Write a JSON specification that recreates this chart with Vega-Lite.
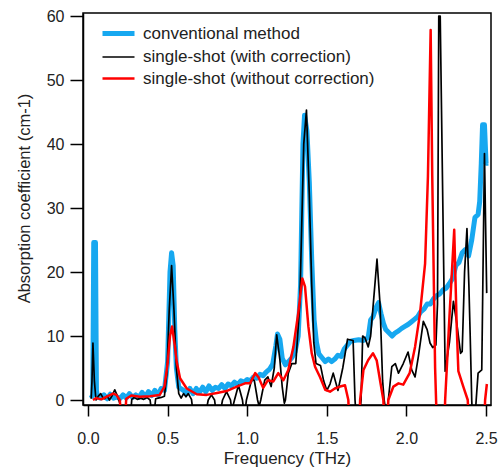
{
  "$schema": "https://vega.github.io/schema/vega-lite/v6.json",
  "width": 408,
  "height": 392,
  "autosize": {"type": "none"},
  "padding": {"left": 83, "top": 13, "right": 8, "bottom": 67},
  "background": "white",
  "config": {
    "font": "Liberation Sans",
    "view": {"stroke": "black", "strokeWidth": 1.5},
    "axis": {"grid": false, "domainColor": "black", "domainWidth": 1.5, "tickColor": "black", "tickWidth": 1.5, "labelColor": "#222", "titleColor": "#222", "labelFontSize": 16, "titleFontSize": 17, "titleFontWeight": "normal"}
  },
  "data": {"values": [
    {"s":"conventional method","f":0.02,"a":0.3},{"s":"conventional method","f":0.03,"a":0.8},{"s":"conventional method","f":0.036,"a":24.6},{"s":"conventional method","f":0.047,"a":24.6},{"s":"conventional method","f":0.053,"a":1.5},{"s":"conventional method","f":0.06,"a":0.5},{"s":"conventional method","f":0.08,"a":0.3},{"s":"conventional method","f":0.1,"a":0.8},{"s":"conventional method","f":0.12,"a":0.2},{"s":"conventional method","f":0.14,"a":0.9},{"s":"conventional method","f":0.16,"a":0.3},{"s":"conventional method","f":0.18,"a":0.5},{"s":"conventional method","f":0.2,"a":0.2},{"s":"conventional method","f":0.22,"a":0.8},{"s":"conventional method","f":0.24,"a":0.3},{"s":"conventional method","f":0.26,"a":1.0},{"s":"conventional method","f":0.28,"a":0.4},{"s":"conventional method","f":0.3,"a":0.8},{"s":"conventional method","f":0.32,"a":0.4},{"s":"conventional method","f":0.34,"a":1.2},{"s":"conventional method","f":0.36,"a":0.5},{"s":"conventional method","f":0.38,"a":1.3},{"s":"conventional method","f":0.4,"a":0.7},{"s":"conventional method","f":0.42,"a":1.5},{"s":"conventional method","f":0.44,"a":0.8},{"s":"conventional method","f":0.46,"a":1.8},{"s":"conventional method","f":0.48,"a":1.5},{"s":"conventional method","f":0.5,"a":6},{"s":"conventional method","f":0.515,"a":20},{"s":"conventional method","f":0.525,"a":23},{"s":"conventional method","f":0.535,"a":21},{"s":"conventional method","f":0.545,"a":11},{"s":"conventional method","f":0.555,"a":5},{"s":"conventional method","f":0.57,"a":2},{"s":"conventional method","f":0.6,"a":1.5},{"s":"conventional method","f":0.62,"a":1.0},{"s":"conventional method","f":0.64,"a":1.8},{"s":"conventional method","f":0.66,"a":1.0},{"s":"conventional method","f":0.68,"a":1.8},{"s":"conventional method","f":0.7,"a":1.2},{"s":"conventional method","f":0.72,"a":2.0},{"s":"conventional method","f":0.74,"a":1.3},{"s":"conventional method","f":0.76,"a":2.2},{"s":"conventional method","f":0.78,"a":1.5},{"s":"conventional method","f":0.8,"a":2.0},{"s":"conventional method","f":0.82,"a":1.8},{"s":"conventional method","f":0.84,"a":2.4},{"s":"conventional method","f":0.86,"a":1.8},{"s":"conventional method","f":0.88,"a":2.5},{"s":"conventional method","f":0.9,"a":2.2},{"s":"conventional method","f":0.92,"a":2.8},{"s":"conventional method","f":0.94,"a":2.4},{"s":"conventional method","f":0.96,"a":3.0},{"s":"conventional method","f":0.98,"a":2.8},{"s":"conventional method","f":1.0,"a":3.2},{"s":"conventional method","f":1.02,"a":3.0},{"s":"conventional method","f":1.04,"a":3.6},{"s":"conventional method","f":1.06,"a":3.4},{"s":"conventional method","f":1.08,"a":4.0},{"s":"conventional method","f":1.1,"a":3.8},{"s":"conventional method","f":1.12,"a":4.4},{"s":"conventional method","f":1.14,"a":4.8},{"s":"conventional method","f":1.16,"a":5.6},{"s":"conventional method","f":1.18,"a":8.5},{"s":"conventional method","f":1.19,"a":10.3},{"s":"conventional method","f":1.205,"a":9.5},{"s":"conventional method","f":1.22,"a":6.5},{"s":"conventional method","f":1.24,"a":5.5},{"s":"conventional method","f":1.26,"a":6.0},{"s":"conventional method","f":1.28,"a":6.6},{"s":"conventional method","f":1.3,"a":7.5},{"s":"conventional method","f":1.32,"a":10},{"s":"conventional method","f":1.335,"a":18},{"s":"conventional method","f":1.35,"a":40},{"s":"conventional method","f":1.36,"a":44.5},{"s":"conventional method","f":1.375,"a":42},{"s":"conventional method","f":1.39,"a":34},{"s":"conventional method","f":1.405,"a":22},{"s":"conventional method","f":1.42,"a":12.5},{"s":"conventional method","f":1.435,"a":9},{"s":"conventional method","f":1.45,"a":7.2},{"s":"conventional method","f":1.47,"a":6.6},{"s":"conventional method","f":1.49,"a":6.0},{"s":"conventional method","f":1.51,"a":6.4},{"s":"conventional method","f":1.53,"a":6.0},{"s":"conventional method","f":1.55,"a":6.4},{"s":"conventional method","f":1.57,"a":7.0},{"s":"conventional method","f":1.59,"a":6.8},{"s":"conventional method","f":1.61,"a":8.0},{"s":"conventional method","f":1.63,"a":8.6},{"s":"conventional method","f":1.65,"a":9.2},{"s":"conventional method","f":1.67,"a":9.3},{"s":"conventional method","f":1.7,"a":9.4},{"s":"conventional method","f":1.73,"a":9.3},{"s":"conventional method","f":1.76,"a":9.8},{"s":"conventional method","f":1.775,"a":12.5},{"s":"conventional method","f":1.79,"a":13},{"s":"conventional method","f":1.81,"a":14.5},{"s":"conventional method","f":1.825,"a":15.2},{"s":"conventional method","f":1.84,"a":13.5},{"s":"conventional method","f":1.855,"a":12},{"s":"conventional method","f":1.87,"a":11},{"s":"conventional method","f":1.89,"a":10.5},{"s":"conventional method","f":1.91,"a":10.0},{"s":"conventional method","f":1.93,"a":10.5},{"s":"conventional method","f":1.95,"a":10.8},{"s":"conventional method","f":1.97,"a":11.2},{"s":"conventional method","f":1.99,"a":11.5},{"s":"conventional method","f":2.01,"a":11.8},{"s":"conventional method","f":2.03,"a":12.2},{"s":"conventional method","f":2.05,"a":12.6},{"s":"conventional method","f":2.07,"a":13},{"s":"conventional method","f":2.09,"a":13.8},{"s":"conventional method","f":2.11,"a":14.2},{"s":"conventional method","f":2.13,"a":15},{"s":"conventional method","f":2.15,"a":15},{"s":"conventional method","f":2.17,"a":15.8},{"s":"conventional method","f":2.19,"a":16.3},{"s":"conventional method","f":2.21,"a":16.6},{"s":"conventional method","f":2.23,"a":17.2},{"s":"conventional method","f":2.25,"a":17.5},{"s":"conventional method","f":2.27,"a":18.2},{"s":"conventional method","f":2.29,"a":19},{"s":"conventional method","f":2.31,"a":21},{"s":"conventional method","f":2.33,"a":21.5},{"s":"conventional method","f":2.35,"a":23},{"s":"conventional method","f":2.37,"a":23.5},{"s":"conventional method","f":2.39,"a":22.5},{"s":"conventional method","f":2.41,"a":25},{"s":"conventional method","f":2.43,"a":28.5},{"s":"conventional method","f":2.45,"a":29},{"s":"conventional method","f":2.46,"a":31},{"s":"conventional method","f":2.47,"a":37},{"s":"conventional method","f":2.478,"a":43},{"s":"conventional method","f":2.49,"a":43},{"s":"conventional method","f":2.5,"a":37},{"s":"conventional method","f":2.515,"a":37},

    {"s":"single-shot (with correction)","f":0.02,"a":0.2},{"s":"single-shot (with correction)","f":0.025,"a":3},{"s":"single-shot (with correction)","f":0.031,"a":8.9},{"s":"single-shot (with correction)","f":0.04,"a":3},{"s":"single-shot (with correction)","f":0.05,"a":0},{"s":"single-shot (with correction)","f":0.065,"a":0.6},{"s":"single-shot (with correction)","f":0.08,"a":1.0},{"s":"single-shot (with correction)","f":0.095,"a":0.3},{"s":"single-shot (with correction)","f":0.105,"a":0.2},{"s":"single-shot (with correction)","f":0.12,"a":0.6},{"s":"single-shot (with correction)","f":0.135,"a":0},{"s":"single-shot (with correction)","f":0.15,"a":0.6},{"s":"single-shot (with correction)","f":0.168,"a":1.6},{"s":"single-shot (with correction)","f":0.185,"a":0.6},{"s":"single-shot (with correction)","f":0.2,"a":-0.5},{"s":"single-shot (with correction)","f":0.21,"a":-3},{"s":"single-shot (with correction)","f":0.265,"a":-3},{"s":"single-shot (with correction)","f":0.275,"a":0.1},{"s":"single-shot (with correction)","f":0.29,"a":0.4},{"s":"single-shot (with correction)","f":0.31,"a":0.1},{"s":"single-shot (with correction)","f":0.33,"a":0.3},{"s":"single-shot (with correction)","f":0.35,"a":0.1},{"s":"single-shot (with correction)","f":0.37,"a":0.4},{"s":"single-shot (with correction)","f":0.39,"a":0},{"s":"single-shot (with correction)","f":0.4,"a":-2},{"s":"single-shot (with correction)","f":0.415,"a":-2},{"s":"single-shot (with correction)","f":0.425,"a":0.2},{"s":"single-shot (with correction)","f":0.44,"a":0.3},{"s":"single-shot (with correction)","f":0.46,"a":0.4},{"s":"single-shot (with correction)","f":0.48,"a":0.6},{"s":"single-shot (with correction)","f":0.495,"a":4},{"s":"single-shot (with correction)","f":0.51,"a":14},{"s":"single-shot (with correction)","f":0.525,"a":21},{"s":"single-shot (with correction)","f":0.54,"a":14},{"s":"single-shot (with correction)","f":0.555,"a":5},{"s":"single-shot (with correction)","f":0.57,"a":1},{"s":"single-shot (with correction)","f":0.585,"a":0.3},{"s":"single-shot (with correction)","f":0.6,"a":1.0},{"s":"single-shot (with correction)","f":0.615,"a":0.5},{"s":"single-shot (with correction)","f":0.63,"a":1.0},{"s":"single-shot (with correction)","f":0.65,"a":0.1},{"s":"single-shot (with correction)","f":0.66,"a":-2},{"s":"single-shot (with correction)","f":0.74,"a":-2},{"s":"single-shot (with correction)","f":0.755,"a":0},{"s":"single-shot (with correction)","f":0.775,"a":0.8},{"s":"single-shot (with correction)","f":0.795,"a":0},{"s":"single-shot (with correction)","f":0.805,"a":-2},{"s":"single-shot (with correction)","f":0.83,"a":-2},{"s":"single-shot (with correction)","f":0.845,"a":0},{"s":"single-shot (with correction)","f":0.87,"a":1.3},{"s":"single-shot (with correction)","f":0.895,"a":0},{"s":"single-shot (with correction)","f":0.9,"a":-1},{"s":"single-shot (with correction)","f":0.91,"a":-1},{"s":"single-shot (with correction)","f":0.92,"a":0},{"s":"single-shot (with correction)","f":0.945,"a":2.3},{"s":"single-shot (with correction)","f":0.97,"a":0},{"s":"single-shot (with correction)","f":0.975,"a":-1},{"s":"single-shot (with correction)","f":0.99,"a":-1},{"s":"single-shot (with correction)","f":0.995,"a":0},{"s":"single-shot (with correction)","f":1.03,"a":3.4},{"s":"single-shot (with correction)","f":1.045,"a":3.0},{"s":"single-shot (with correction)","f":1.065,"a":0},{"s":"single-shot (with correction)","f":1.075,"a":-1},{"s":"single-shot (with correction)","f":1.085,"a":0},{"s":"single-shot (with correction)","f":1.11,"a":3.1},{"s":"single-shot (with correction)","f":1.13,"a":3.6},{"s":"single-shot (with correction)","f":1.15,"a":2.1},{"s":"single-shot (with correction)","f":1.17,"a":5},{"s":"single-shot (with correction)","f":1.185,"a":10.2},{"s":"single-shot (with correction)","f":1.205,"a":6.3},{"s":"single-shot (with correction)","f":1.22,"a":2},{"s":"single-shot (with correction)","f":1.233,"a":-0.5},{"s":"single-shot (with correction)","f":1.24,"a":0},{"s":"single-shot (with correction)","f":1.258,"a":4.2},{"s":"single-shot (with correction)","f":1.28,"a":5.7},{"s":"single-shot (with correction)","f":1.305,"a":5.7},{"s":"single-shot (with correction)","f":1.33,"a":15},{"s":"single-shot (with correction)","f":1.355,"a":40},{"s":"single-shot (with correction)","f":1.372,"a":45.3},{"s":"single-shot (with correction)","f":1.39,"a":32},{"s":"single-shot (with correction)","f":1.405,"a":18},{"s":"single-shot (with correction)","f":1.418,"a":9},{"s":"single-shot (with correction)","f":1.432,"a":5.7},{"s":"single-shot (with correction)","f":1.46,"a":5.4},{"s":"single-shot (with correction)","f":1.48,"a":3},{"s":"single-shot (with correction)","f":1.5,"a":1.5},{"s":"single-shot (with correction)","f":1.52,"a":2.5},{"s":"single-shot (with correction)","f":1.54,"a":4.2},{"s":"single-shot (with correction)","f":1.57,"a":1.5},{"s":"single-shot (with correction)","f":1.6,"a":5},{"s":"single-shot (with correction)","f":1.63,"a":9.5},{"s":"single-shot (with correction)","f":1.665,"a":9.3},{"s":"single-shot (with correction)","f":1.677,"a":0},{"s":"single-shot (with correction)","f":1.685,"a":-3},{"s":"single-shot (with correction)","f":1.705,"a":-3},{"s":"single-shot (with correction)","f":1.715,"a":0},{"s":"single-shot (with correction)","f":1.725,"a":10},{"s":"single-shot (with correction)","f":1.74,"a":9.7},{"s":"single-shot (with correction)","f":1.76,"a":8.3},{"s":"single-shot (with correction)","f":1.775,"a":10},{"s":"single-shot (with correction)","f":1.795,"a":16},{"s":"single-shot (with correction)","f":1.815,"a":22},{"s":"single-shot (with correction)","f":1.834,"a":15},{"s":"single-shot (with correction)","f":1.85,"a":3.1},{"s":"single-shot (with correction)","f":1.86,"a":0},{"s":"single-shot (with correction)","f":1.866,"a":-1},{"s":"single-shot (with correction)","f":1.88,"a":-1},{"s":"single-shot (with correction)","f":1.886,"a":0},{"s":"single-shot (with correction)","f":1.908,"a":5.2},{"s":"single-shot (with correction)","f":1.93,"a":5.7},{"s":"single-shot (with correction)","f":1.95,"a":4.2},{"s":"single-shot (with correction)","f":1.98,"a":5.7},{"s":"single-shot (with correction)","f":2.01,"a":7.5},{"s":"single-shot (with correction)","f":2.033,"a":4.7},{"s":"single-shot (with correction)","f":2.054,"a":3.6},{"s":"single-shot (with correction)","f":2.075,"a":6.8},{"s":"single-shot (with correction)","f":2.106,"a":12.3},{"s":"single-shot (with correction)","f":2.13,"a":11},{"s":"single-shot (with correction)","f":2.148,"a":8.9},{"s":"single-shot (with correction)","f":2.165,"a":8.2},{"s":"single-shot (with correction)","f":2.185,"a":8.6},{"s":"single-shot (with correction)","f":2.195,"a":15},{"s":"single-shot (with correction)","f":2.203,"a":60},{"s":"single-shot (with correction)","f":2.212,"a":60},{"s":"single-shot (with correction)","f":2.243,"a":4.5},{"s":"single-shot (with correction)","f":2.27,"a":9},{"s":"single-shot (with correction)","f":2.295,"a":15.4},{"s":"single-shot (with correction)","f":2.316,"a":12},{"s":"single-shot (with correction)","f":2.34,"a":7.3},{"s":"single-shot (with correction)","f":2.35,"a":7.6},{"s":"single-shot (with correction)","f":2.365,"a":20},{"s":"single-shot (with correction)","f":2.38,"a":26.8},{"s":"single-shot (with correction)","f":2.392,"a":18},{"s":"single-shot (with correction)","f":2.4,"a":10.4},{"s":"single-shot (with correction)","f":2.41,"a":0},{"s":"single-shot (with correction)","f":2.415,"a":-3},{"s":"single-shot (with correction)","f":2.43,"a":-3},{"s":"single-shot (with correction)","f":2.438,"a":0},{"s":"single-shot (with correction)","f":2.45,"a":4.2},{"s":"single-shot (with correction)","f":2.473,"a":4.7},{"s":"single-shot (with correction)","f":2.49,"a":38.5},{"s":"single-shot (with correction)","f":2.504,"a":16.7},

    {"s":"single-shot (without correction)","f":0.031,"a":0},{"s":"single-shot (without correction)","f":0.052,"a":0.3},{"s":"single-shot (without correction)","f":0.084,"a":0.1},{"s":"single-shot (without correction)","f":0.115,"a":0.5},{"s":"single-shot (without correction)","f":0.157,"a":1.0},{"s":"single-shot (without correction)","f":0.178,"a":0.8},{"s":"single-shot (without correction)","f":0.2,"a":0},{"s":"single-shot (without correction)","f":0.205,"a":-2},{"s":"single-shot (without correction)","f":0.235,"a":-2},{"s":"single-shot (without correction)","f":0.24,"a":0.2},{"s":"single-shot (without correction)","f":0.272,"a":0.7},{"s":"single-shot (without correction)","f":0.325,"a":0.5},{"s":"single-shot (without correction)","f":0.39,"a":0.6},{"s":"single-shot (without correction)","f":0.45,"a":0.8},{"s":"single-shot (without correction)","f":0.48,"a":2.1},{"s":"single-shot (without correction)","f":0.5,"a":5.7},{"s":"single-shot (without correction)","f":0.515,"a":10},{"s":"single-shot (without correction)","f":0.528,"a":11.5},{"s":"single-shot (without correction)","f":0.545,"a":8.5},{"s":"single-shot (without correction)","f":0.557,"a":6},{"s":"single-shot (without correction)","f":0.578,"a":3.4},{"s":"single-shot (without correction)","f":0.62,"a":1.8},{"s":"single-shot (without correction)","f":0.683,"a":0.9},{"s":"single-shot (without correction)","f":0.745,"a":0.8},{"s":"single-shot (without correction)","f":0.81,"a":1.1},{"s":"single-shot (without correction)","f":0.87,"a":1.4},{"s":"single-shot (without correction)","f":0.934,"a":2.1},{"s":"single-shot (without correction)","f":0.986,"a":2.6},{"s":"single-shot (without correction)","f":1.018,"a":2.6},{"s":"single-shot (without correction)","f":1.05,"a":4.2},{"s":"single-shot (without correction)","f":1.07,"a":3.6},{"s":"single-shot (without correction)","f":1.1,"a":1.9},{"s":"single-shot (without correction)","f":1.13,"a":3.1},{"s":"single-shot (without correction)","f":1.164,"a":2.9},{"s":"single-shot (without correction)","f":1.195,"a":4.2},{"s":"single-shot (without correction)","f":1.227,"a":3.1},{"s":"single-shot (without correction)","f":1.258,"a":4.7},{"s":"single-shot (without correction)","f":1.29,"a":8.3},{"s":"single-shot (without correction)","f":1.32,"a":13.5},{"s":"single-shot (without correction)","f":1.346,"a":19},{"s":"single-shot (without correction)","f":1.363,"a":17.7},{"s":"single-shot (without correction)","f":1.384,"a":11.5},{"s":"single-shot (without correction)","f":1.405,"a":7.3},{"s":"single-shot (without correction)","f":1.426,"a":5.2},{"s":"single-shot (without correction)","f":1.457,"a":3.6},{"s":"single-shot (without correction)","f":1.49,"a":1.6},{"s":"single-shot (without correction)","f":1.52,"a":1.3},{"s":"single-shot (without correction)","f":1.55,"a":1.8},{"s":"single-shot (without correction)","f":1.583,"a":2.1},{"s":"single-shot (without correction)","f":1.614,"a":2.3},{"s":"single-shot (without correction)","f":1.635,"a":0},{"s":"single-shot (without correction)","f":1.64,"a":-3},{"s":"single-shot (without correction)","f":1.705,"a":-3},{"s":"single-shot (without correction)","f":1.709,"a":0},{"s":"single-shot (without correction)","f":1.73,"a":4.7},{"s":"single-shot (without correction)","f":1.76,"a":6.25},{"s":"single-shot (without correction)","f":1.79,"a":7.3},{"s":"single-shot (without correction)","f":1.813,"a":6.2},{"s":"single-shot (without correction)","f":1.834,"a":3.1},{"s":"single-shot (without correction)","f":1.855,"a":0},{"s":"single-shot (without correction)","f":1.86,"a":-3},{"s":"single-shot (without correction)","f":1.882,"a":-3},{"s":"single-shot (without correction)","f":1.886,"a":0},{"s":"single-shot (without correction)","f":1.918,"a":2.1},{"s":"single-shot (without correction)","f":1.95,"a":2.6},{"s":"single-shot (without correction)","f":1.98,"a":2.4},{"s":"single-shot (without correction)","f":2.02,"a":4.2},{"s":"single-shot (without correction)","f":2.054,"a":8.3},{"s":"single-shot (without correction)","f":2.085,"a":13.5},{"s":"single-shot (without correction)","f":2.117,"a":21.3},{"s":"single-shot (without correction)","f":2.135,"a":35},{"s":"single-shot (without correction)","f":2.152,"a":57.8},{"s":"single-shot (without correction)","f":2.162,"a":35},{"s":"single-shot (without correction)","f":2.18,"a":5},{"s":"single-shot (without correction)","f":2.186,"a":0},{"s":"single-shot (without correction)","f":2.19,"a":-3},{"s":"single-shot (without correction)","f":2.24,"a":-3},{"s":"single-shot (without correction)","f":2.243,"a":0},{"s":"single-shot (without correction)","f":2.27,"a":13},{"s":"single-shot (without correction)","f":2.3,"a":26.6},{"s":"single-shot (without correction)","f":2.315,"a":12},{"s":"single-shot (without correction)","f":2.326,"a":4.5},{"s":"single-shot (without correction)","f":2.357,"a":2.1},{"s":"single-shot (without correction)","f":2.385,"a":0},{"s":"single-shot (without correction)","f":2.39,"a":-3},{"s":"single-shot (without correction)","f":2.49,"a":-3},{"s":"single-shot (without correction)","f":2.494,"a":0},{"s":"single-shot (without correction)","f":2.505,"a":2.5}
  ]},
  "mark": {"type": "line", "clip": true, "strokeJoin": "round"},
  "encoding": {
    "x": {"field": "f", "type": "quantitative", "scale": {"domain": [-0.0314, 2.531], "nice": false, "zero": false},
      "axis": {"values": [0, 0.5, 1, 1.5, 2, 2.5], "format": ".1f", "tickSize": 11, "labelPadding": 14, "title": "Frequency (THz)", "titlePadding": 4}},
    "y": {"field": "a", "type": "quantitative", "scale": {"domain": [-0.78, 60.47], "nice": false, "zero": false},
      "axis": {"values": [0, 10, 20, 30, 40, 50, 60], "tickSize": 13, "labelPadding": 6, "title": "Absorption coefficient (cm-1)", "titlePadding": 14, "titleFontSize": 16.5, "titleY": 185}},
    "color": {"field": "s", "type": "nominal", "title": null,
      "scale": {"domain": ["conventional method", "single-shot (with correction)", "single-shot (without correction)"], "range": ["#17A8F0", "#000000", "#FF0000"]},
      "legend": {"orient": "none", "legendX": 25, "legendY": 10, "symbolType": "M-2,0H2", "symbolSize": 256, "labelFontSize": 17, "labelColor": "#222", "labelOffset": 14, "rowPadding": 4, "padding": 0, "labelLimit": 400}},
    "strokeWidth": {"field": "s", "type": "nominal", "title": null,
      "scale": {"type": "ordinal", "domain": ["conventional method", "single-shot (with correction)", "single-shot (without correction)"], "range": [5, 1.7, 2.5]},
      "legend": {"orient": "none", "legendX": 25, "legendY": 10, "symbolType": "M-2,0H2", "symbolSize": 256, "labelFontSize": 17, "labelColor": "#222", "labelOffset": 14, "rowPadding": 4, "padding": 0, "labelLimit": 400}}
  }
}
